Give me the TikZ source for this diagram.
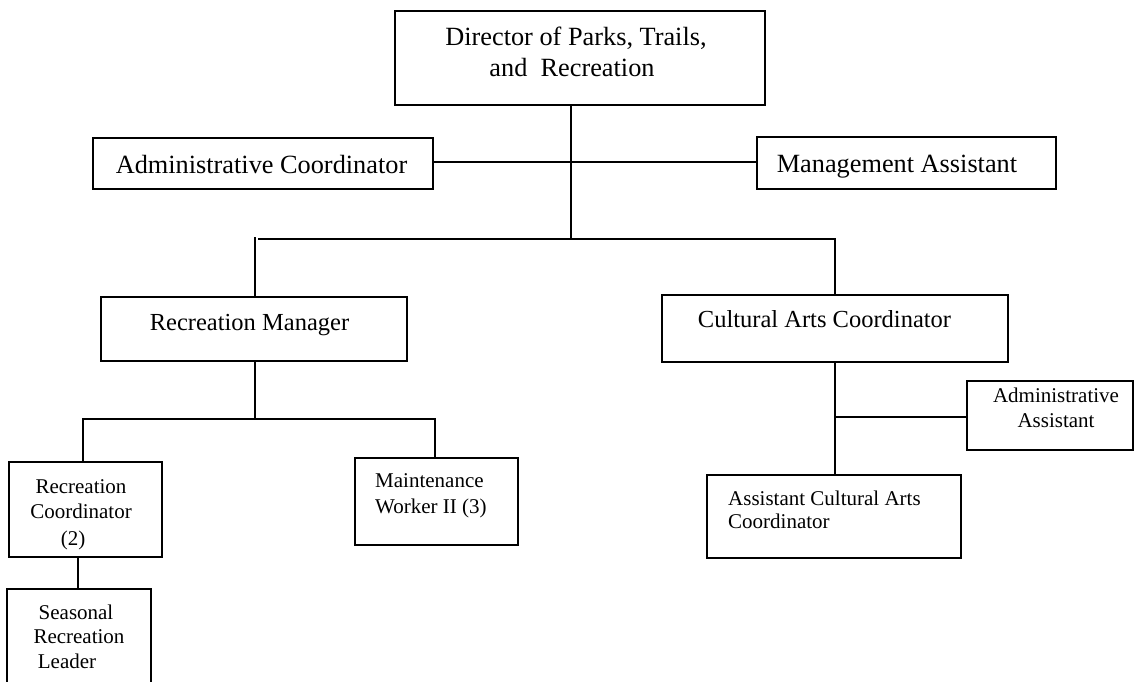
\documentclass[tikz,border=0pt]{standalone}
\usepackage{fontspec}
\setmainfont{Liberation Serif}
\begin{document}
\begin{tikzpicture}[x=1pt,y=-1pt,
  boxst/.style={draw, line width=1.8pt, inner sep=0pt, outer sep=0pt},
  wire/.style={line width=1.8pt},
  big/.style={inner sep=0pt, font=\fontsize{26.3}{30}\selectfont},
  mid/.style={inner sep=0pt, font=\fontsize{24.5}{28}\selectfont},
  small/.style={inner sep=0pt, font=\fontsize{21}{24}\selectfont}]
\useasboundingbox (0,0) rectangle (1134,681);
% boxes
\node[boxst, minimum width=370pt, minimum height=94pt] (dir) at (580,58) {};
\node[boxst, minimum width=340pt, minimum height=51pt] (ac) at (263,163.5) {};
\node[boxst, minimum width=299pt, minimum height=52pt] (ma) at (906.5,163) {};
\node[boxst, minimum width=306pt, minimum height=64pt] (rm) at (254,329) {};
\node[boxst, minimum width=346pt, minimum height=67pt] (cac) at (835,328.5) {};
\node[boxst, minimum width=153pt, minimum height=95pt] (rc) at (85.5,509.5) {};
\node[boxst, minimum width=163pt, minimum height=87pt] (mw) at (436.5,501.5) {};
\node[boxst, minimum width=166pt, minimum height=69pt] (aa) at (1050,415.5) {};
\node[boxst, minimum width=254pt, minimum height=83pt] (acac) at (834,516.5) {};
\coordinate (srltop) at (78,589);
\draw[wire] (7,690) -- (7,589) -- (151,589) -- (151,690);
% texts
\node[big, anchor=base] (t1) at (576,45) {Director of Parks, Trails,};
\node[big, anchor=base] (t2) at (572,76) {and\ \ Recreation};
\node[big, anchor=base] (t3) at (261.5,173) {Administrative Coordinator};
\node[big, anchor=base] (t4) at (897,172) {Management Assistant};
\node[mid, anchor=base] (t5) at (249.5,330) {Recreation Manager};
\node[mid, anchor=base] (t6) at (824.5,327) {Cultural Arts Coordinator};
\node[small, anchor=base] (t7) at (81,493) {Recreation};
\node[small, anchor=base] (t8) at (81,518) {Coordinator};
\node[small, anchor=base] (t9) at (73,545) {(2)};
\node[small, anchor=base] (t10) at (76,619) {Seasonal};
\node[small, anchor=base] (t11) at (79,643) {Recreation};
\node[small, anchor=base] (t12) at (67,668) {Leader};
\node[small, anchor=base west] (t13) at (375,487) {Maintenance};
\node[small, anchor=base west] (t14) at (375,513) {Worker II (3)};
\node[small, anchor=base] (t15) at (1056,402) {Administrative};
\node[small, anchor=base] (t16) at (1056,427) {Assistant};
\node[small, anchor=base west] (t17) at (728,505) {Assistant Cultural Arts};
\node[small, anchor=base west] (t18) at (728,528) {Coordinator};
% connectors
\coordinate (bus) at (571,239);
\draw[wire] (571,105) -- (bus);
\draw[wire] (ac.east |- 0,162) -- (ma.west |- 0,162);
\coordinate (busL) at (258,239);
\draw[wire] (busL) -- (835,239) -- (cac.north);
\draw[wire] (255,237) -- (rm.north -| 255,0);
\coordinate (j2) at (255,419);
\draw[wire] (rm.south -| 255,0) -- (j2);
\draw[wire] (83,462) -- (83,419) -- (435,419) -- (435,458);
\draw[wire] (rc.south -| srltop) -- (srltop);
\coordinate (j3) at (835,417);
\draw[wire] (cac.south) -- (acac.north -| cac.south);
\draw[wire] (j3) -- (aa.west |- j3);
\end{tikzpicture}
\end{document}
